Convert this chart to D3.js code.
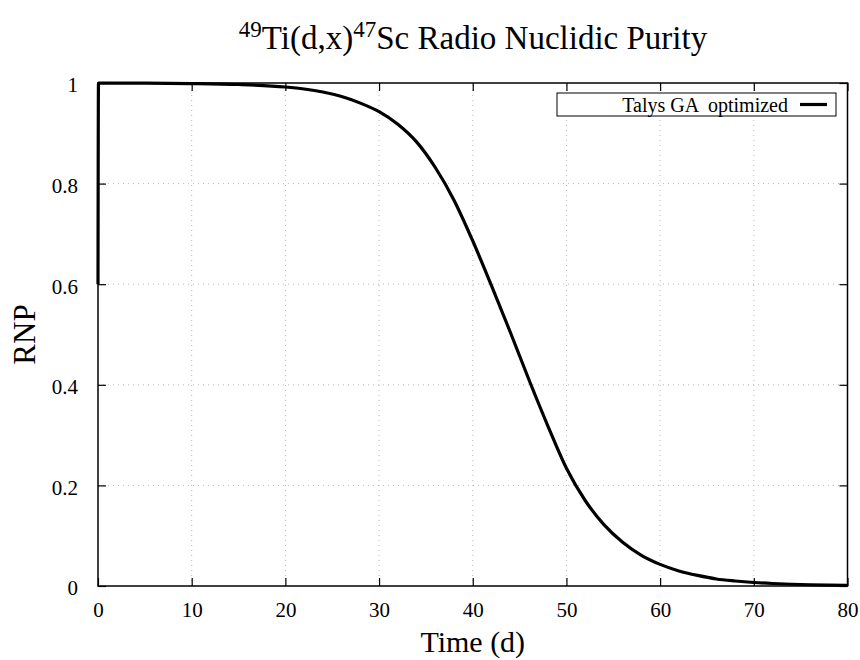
<!DOCTYPE html>
<html>
<head>
<meta charset="utf-8">
<script src="https://cdn.jsdelivr.net/npm/d3@7"></script>
<style>
  body { margin: 0; background: #fff; }
  svg { display: block; }
  svg text { font-family: "Liberation Serif", "Times New Roman", "DejaVu Serif", serif !important; fill: #000; }
</style>
</head>
<body>
<div id="chart"></div>
<script>
// ---- data ----
const timeDays = [0, 0.05, 5, 10, 15, 20, 22, 24, 26, 28, 30, 32, 34, 36, 38, 40, 42, 44, 46, 48, 50, 52, 54, 56, 58, 60, 62, 64, 66, 68, 70, 72, 74, 76, 78, 80];
const rnpValues = [0.60, 0.9999, 0.9996, 0.9989, 0.997, 0.992, 0.988, 0.982, 0.973, 0.960, 0.943, 0.918, 0.883, 0.832, 0.767, 0.686, 0.597, 0.505, 0.410, 0.319, 0.234, 0.170, 0.122, 0.087, 0.061, 0.043, 0.030, 0.021, 0.014, 0.010, 0.007, 0.005, 0.0035, 0.0025, 0.0018, 0.0013];
const xTicks = [0, 10, 20, 30, 40, 50, 60, 70, 80];
const yTicks = [0, 0.2, 0.4, 0.6, 0.8, 1];
const seriesName = "Talys GA  optimized";
const xLabel = "Time (d)";
const yLabel = "RNP";

const W = 860, H = 660;
const margin = { left: 98, right: 12.5, top: 83, bottom: 74 };
const iw = W - margin.left - margin.right;
const ih = H - margin.top - margin.bottom;
const serif = '"Liberation Serif", "Times New Roman", serif';

const svg = d3.select("#chart").append("svg").attr("width", W).attr("height", H);

const x = d3.scaleLinear().domain([0, 80]).range([margin.left, margin.left + iw]);
const y = d3.scaleLinear().domain([0, 1]).range([margin.top + ih, margin.top]);

// grid
const grid = svg.append("g").attr("stroke", "#b8b8b8").attr("stroke-width", 1).attr("stroke-dasharray", "1,4");
xTicks.slice(1, -1).forEach(t => {
  grid.append("line").attr("x1", x(t)).attr("x2", x(t)).attr("y1", y(0)).attr("y2", y(1));
});
yTicks.slice(1, -1).forEach(t => {
  grid.append("line").attr("x1", x(0)).attr("x2", x(80)).attr("y1", y(t)).attr("y2", y(t));
});

// axes with inward ticks
const tickLen = 8;
const fmtY = d => (d === 0 || d === 1) ? String(d) : d3.format(".1f")(d);
const bottomAxis = d3.axisBottom(x).tickValues(xTicks).tickSizeInner(-tickLen).tickSizeOuter(0).tickPadding(tickLen + 8);
const topAxis = d3.axisTop(x).tickValues(xTicks).tickSizeInner(-tickLen).tickSizeOuter(0).tickFormat("");
const leftAxis = d3.axisLeft(y).tickValues(yTicks).tickSizeInner(-tickLen).tickSizeOuter(0).tickPadding(tickLen + 12).tickFormat(fmtY);
const rightAxis = d3.axisRight(y).tickValues(yTicks).tickSizeInner(-tickLen).tickSizeOuter(0).tickFormat("");

function styleAxis(g) {
  g.attr("font-family", serif);
  g.select(".domain").remove();
  g.selectAll("line").attr("stroke", "#000").attr("stroke-width", 1.2);
  g.selectAll("text").attr("font-size", 21).style("font-family", serif).attr("fill", "#000");
}
svg.append("g").attr("transform", `translate(0,${y(0)})`).call(bottomAxis).call(styleAxis);
svg.append("g").attr("transform", `translate(0,${y(1)})`).call(topAxis).call(styleAxis);
svg.append("g").attr("transform", `translate(${x(0)},0)`).call(leftAxis).call(styleAxis)
  .selectAll("text").attr("dy", "0.42em");
svg.append("g").attr("transform", `translate(${x(80)},0)`).call(rightAxis).call(styleAxis);

// border
svg.append("rect").attr("x", x(0)).attr("y", y(1)).attr("width", iw).attr("height", ih)
  .attr("fill", "none").attr("stroke", "#000").attr("stroke-width", 1.5);

// curve
const pts = timeDays.map((t, i) => [t, rnpValues[i]]);
const line = d3.line().x(d => x(d[0])).y(d => y(d[1])).curve(d3.curveMonotoneX);
svg.append("path").datum(pts).attr("d", line).attr("fill", "none")
  .attr("stroke", "#000").attr("stroke-width", 3.2).attr("stroke-linejoin", "round");

// legend
const lg = svg.append("g");
lg.append("rect").attr("x", 557).attr("y", 93).attr("width", 279).attr("height", 23)
  .attr("fill", "#fff").attr("stroke", "#000").attr("stroke-width", 1);
lg.append("text").attr("x", 788).attr("y", 111.5).attr("text-anchor", "end").attr("font-size", 20)
  .style("font-family", serif).attr("xml:space", "preserve").style("white-space", "pre").text(seriesName);
lg.append("line").attr("x1", 800).attr("x2", 827).attr("y1", 104.5).attr("y2", 104.5)
  .attr("stroke", "#000").attr("stroke-width", 3.2);

// title with superscripts
const title = svg.append("text").attr("x", 473).attr("y", 49).attr("text-anchor", "middle")
  .attr("font-size", 33).style("font-family", serif);
title.append("tspan").attr("font-size", 23).attr("dy", -12).text("49");
title.append("tspan").attr("dy", 12).text("Ti(d,x)");
title.append("tspan").attr("font-size", 23).attr("dy", -12).text("47");
title.append("tspan").attr("dy", 12).text("Sc Radio Nuclidic Purity");

// axis labels
svg.append("text").attr("x", x(40)).attr("y", 652).attr("text-anchor", "middle").attr("font-size", 30)
  .style("font-family", serif).text(xLabel);
svg.append("text").attr("transform", `translate(35,${y(0.5)}) rotate(-90)`).attr("text-anchor", "middle")
  .attr("font-size", 31).style("font-family", serif).text(yLabel);
</script>
</body>
</html>
